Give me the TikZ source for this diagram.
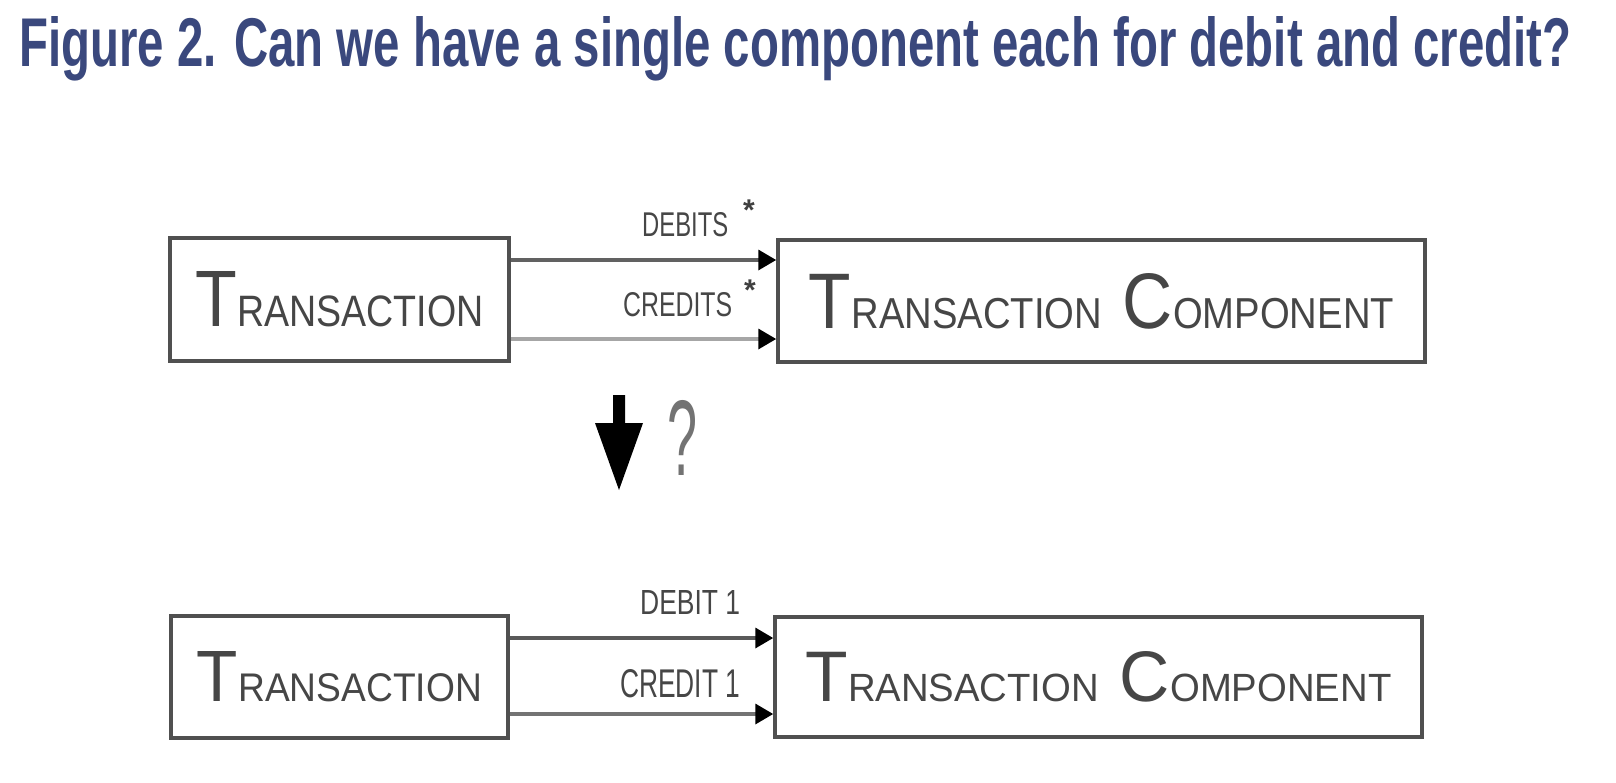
\documentclass[tikz,border=0pt]{standalone}
\usepackage{fontspec}
\usepackage{graphicx}
\setmainfont{Liberation Sans}
\usetikzlibrary{arrows.meta}
\definecolor{titleblue}{RGB}{58,72,125}
\definecolor{boxgray}{RGB}{80,80,80}
\definecolor{txtgray}{RGB}{70,70,70}
\newcommand{\bigsmall}[2]{{\fontsize{20}{20}\selectfont #1}{\fontsize{11}{11}\selectfont #2}}
\begin{document}
\begin{tikzpicture}[x=1pt,y=-1pt,
  classbox/.style={draw=boxgray,line width=3.5pt,inner sep=0pt,text=txtgray},
  assoc/.style={line width=3.5pt,-{Triangle[length=18pt,width=20pt,color=black]}},
  lbl/.style={inner sep=0pt,anchor=base west,text=txtgray},
  star/.style={inner sep=0pt,text=black!75,font=\fontsize{30}{30}\selectfont\bfseries}]
\useasboundingbox (0,0) rectangle (1616,782);
\fill[white] (0,0) rectangle (1616,782);
% title
\node[inner sep=0pt,anchor=base west,text=titleblue] (title) at (19,66)
  {\resizebox{1552pt}{50pt}{\bfseries Figure 2. Can we have a single component each for debit and credit?}};
% top row
\node[classbox,minimum width=339pt,minimum height=123pt] (t1) at (339.5,299.5)
  {\resizebox{288pt}{55pt}{\bigsmall{T}{RANSACTION}}};
\node[classbox,minimum width=647pt,minimum height=122pt] (t2) at (1101.5,301)
  {\resizebox{585pt}{55pt}{\bigsmall{T}{RANSACTION}\hspace{6pt}\bigsmall{C}{OMPONENT}}};
\draw[assoc,draw=black!62] (t1.east |- 0,260) -- (t2.west |- 0,260);
\draw[assoc,draw=black!35] (t1.east |- 0,339) -- (t2.west |- 0,339);
\node[lbl] (l1) at (642,236) {\resizebox{86pt}{24pt}{DEBITS}};
\node[star] (s1) at (749,210) {*};
\node[lbl] (l2) at (623,316) {\resizebox{109pt}{24pt}{CREDITS}};
\node[star] (s2) at (750,290) {*};
% down arrow and question mark
\fill[black] (613,395) -- (625,395) -- (625,423) -- (643,423) -- (619,490) -- (595,423) -- (613,423) -- cycle;
\node[inner sep=0pt,anchor=base west,text=black!55] (q) at (667,475) {\resizebox{30pt}{75pt}{?}};
% bottom row
\node[classbox,minimum width=337pt,minimum height=122pt] (b1) at (339.5,677)
  {\resizebox{285pt}{50pt}{\bigsmall{T}{RANSACTION}}};
\node[classbox,minimum width=647pt,minimum height=120pt] (b2) at (1098.5,677)
  {\resizebox{586pt}{50pt}{\bigsmall{T}{RANSACTION}\hspace{6pt}\bigsmall{C}{OMPONENT}}};
\draw[assoc,draw=black!65] (b1.east |- 0,638) -- (b2.west |- 0,638);
\draw[assoc,draw=black!55] (b1.east |- 0,714) -- (b2.west |- 0,714);
\node[lbl] (l3) at (640,614) {\resizebox{100pt}{24pt}{DEBIT 1}};
\node[lbl] (l4) at (620,697) {\resizebox{120pt}{28pt}{CREDIT 1}};
\end{tikzpicture}
\end{document}
